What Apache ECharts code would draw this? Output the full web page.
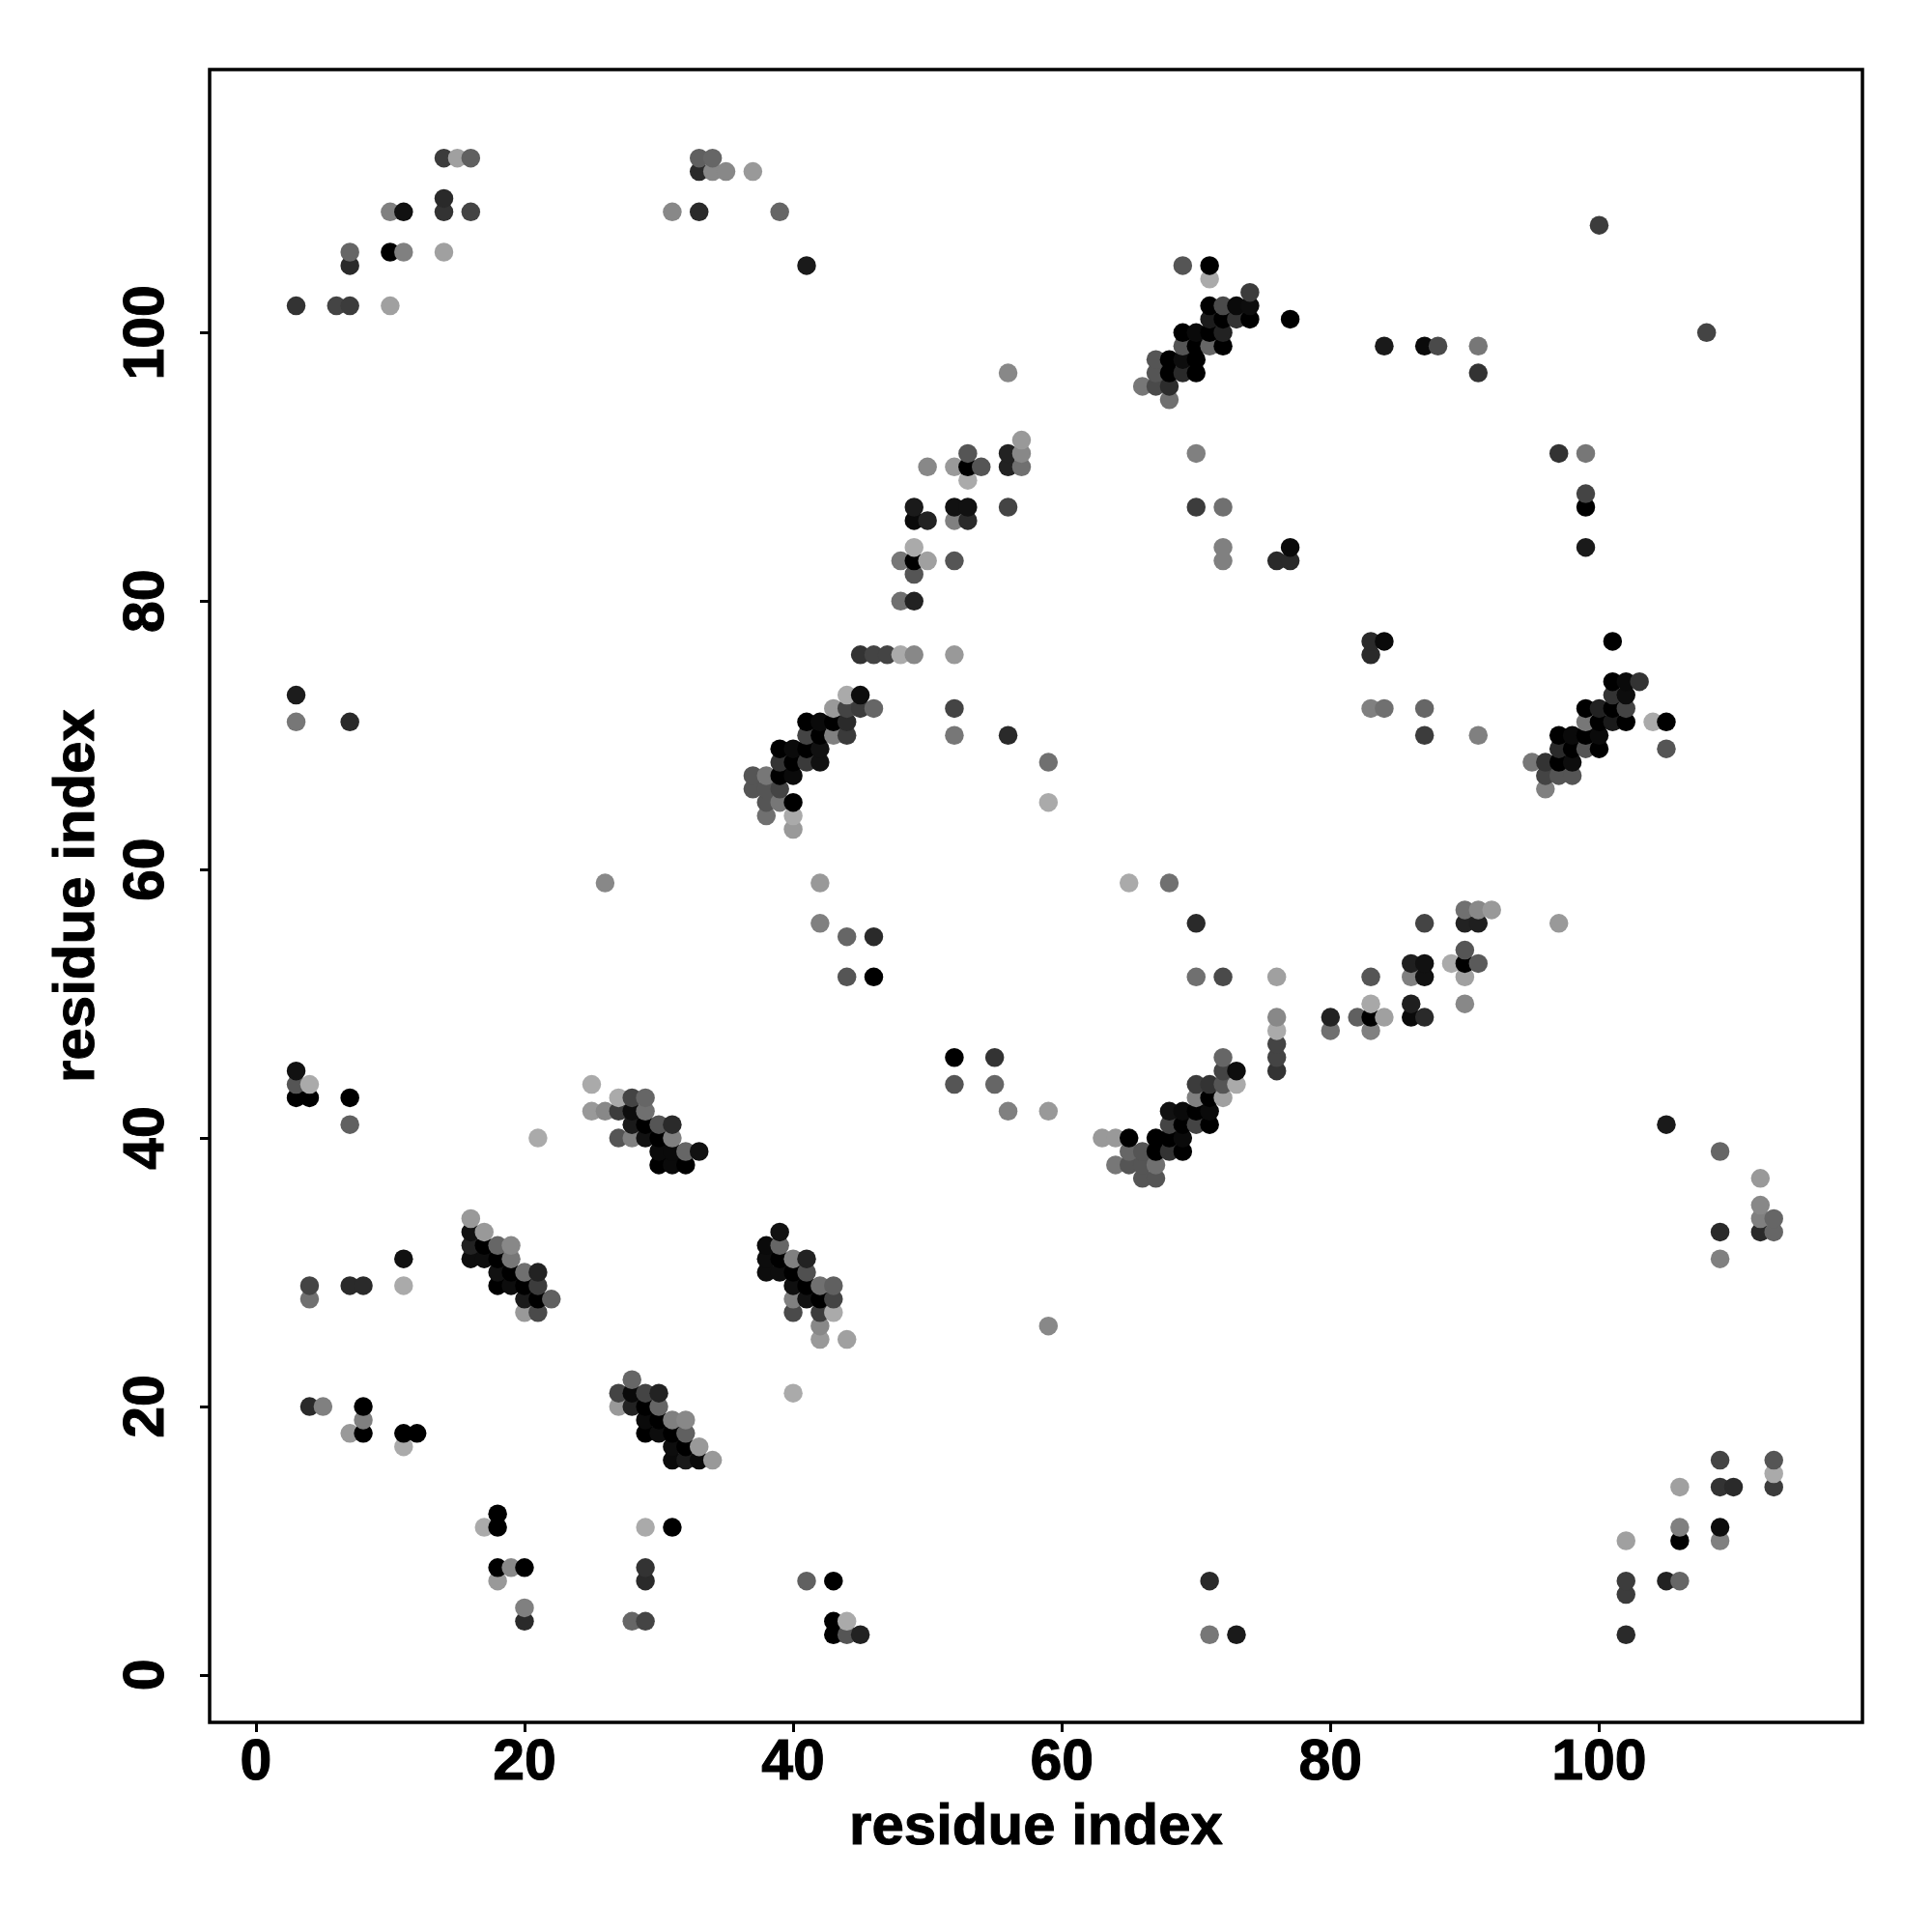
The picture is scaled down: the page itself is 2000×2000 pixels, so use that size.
<!DOCTYPE html>
<html>
<head>
<meta charset="utf-8">
<style>html,body{margin:0;padding:0;background:#fff}#c{width:2000px;height:2000px}</style>
<script src="https://cdn.jsdelivr.net/npm/echarts@6/dist/echarts.min.js"></script>
</head>
<body>
<div id="c"></div>
<script>
const rowResidue = [113,112,110,109,108,106,105,104,103,102,101,100,99,98,97,96,95,92,91,90,89,88,87,86,84,83,82,80,77,76,74,73,72,71,70,69,68,67,66,65,64,63,59,57,56,55,54,53,52,50,49,48,47,46,45,44,43,42,41,40,39,38,37,35,34,33,32,31,30,29,28,27,26,25,22,21,20,19,18,17,16,15,14,12,11,10,8,7,6,5,4,3];
const columnResidues = [
[14,15,16,33,34],[33,34,35,37],[14],[10,11,14,16,31,33,39],[100],[7,10,11,14],[7,41,69,71],[71],[74],
[3,6,7,10,71,72,73,74],[71,72,73,74,77],[69,70,71,72,108],[69,70,71,72,84,87,88,91],[67,68,69,70],[56,67,68,69,70,91],[66,67,68],[68],
[57],[53,56,57,70,97,99],[50,52,53,54,56,57],[53],[99],[49,52,53,56,70,72,99],[49,50,52,53],[49,72,77,99],[48,49,50,52,72,76,77],[49],[48,49],
[83,84,101],[45,46,47,48,49,52,83],[101,102,103],[3,44,45,101,102],[43,44,45,46,52,83,84,87,99,100,101,102],[3,7,41,42,43,44,99,100,101,102,104,105],
[41,42,43,44,52,56,87,91,97,98,99,100],[39,40,41,42,97,98,99,100,105],[39,40,41,42,59,95,96,97,98],[37,38,39,40,96,97,98],[37,38,39,96],[38,39,40,59],[38,40],[40],
[26,42,65,68],[90,91,92],[42,70,87,90,91,97],[44,46],[90],[86,87,89,90,91],[44,46,70,72,76,83,86,87,90],[83,86,90],[76,80,82,83,84,86,87],[76,80,83],[76],
[52,55,72,76],[3,72,73,76],[3,4,25,52,55,70,71,72,73],[3,4,7,27,28,29,70,71,72],[25,26,27,28,29,56,59,68,69,70,71],[7,28,29,30,31,68,69,70,71,105],
[21,27,28,29,30,31,63,64,65,67,68,69],[30,31,32,33,65,66,67,68,69,109],[30,31,32,64,65,66,67],[66,67,112],[112],[16,112,113],[16,17,39,109,112,113],
[16,17,18,19,38,39],[11,16,17,18,19,38,39,40,41,109],[18,19,20,21,38,39,40,41],[4,7,8,11,18,19,20,21,40,41,42,43],[4,20,21,22,40,41,42,43],[20,21,40,42,43],[42,59],[42,44],
[28],[27,28,29,30,40],[4,5,8,27,28,29,30],[8,29,30,31,32],[7,8,11,12,29,30,31,32],[11,31,32,33],[31,32,33,34,109,113],[113],[106,109,110,113],[18],[17,18,29,31,106,109],[102,106,109],
[18,19,20,29],[18,29,41,43,71,102,105,106],[102],[20],[20,28,29,43,44],[43,44,45,71,73,102]
];
const greyLevels = [
[60,160,96,96,102],[42,136,136,153],[42],[128,17,51,68,136,42,102],[60],[102,0,128,160],[42,26,85,0],[170],[60],
[51,68,60,160,0,74,10,13],[28,0,51,0,0],[0,10,0,34,68],[85,0,102,0,26,10,74,119],[85,0,13,0],[136,85,0,42,0,51],[119,74,44],[112],
[153],[85,34,136,128,51,119],[136,153,0,85,34,112],[170],[68],[26,17,17,68,60,112,0],[10,34,128,42],[170,128,10,26],[119,0,160,85,128,42,42],[85],[112,34],
[42,10,0],[51,68,68,170,136,153,42],[0,10,51],[28,170,13,51,13],[153,68,60,102,68,128,112,102,0,34,0,68],[119,42,0,10,0,42,119,0,26,0,170,0],
[68,0,128,58,119,42,60,128,0,10,0,10],[0,10,0,17,42,0,85,0,85],[51,0,58,17,112,119,51,0,13],[85,119,0,10,68,85,85],[85,85,68,128],[85,119,0,170],[112,170],[153],
[136,153,170,112],[112,136,153],[128,42,68,34,31,153],[102,42],[85],[31,17,170,0,90],[85,0,112,74,160,85,128,17,160],[168,31,136],[136,34,96,0,160,10,42],[170,112,128],[68],
[0,51,102,68],[17,68,13,51],[85,170,170,85,102,60,51,85,170],[0,0,0,170,68,102,128,0,160],[153,136,60,13,112,128,153,17,10,0,10],[96,26,0,85,42,68,0,68,0,26],
[170,85,128,17,0,128,153,153,0,0,0,10],[10,10,102,17,102,85,0,51,0,102],[0,10,0,119,85,85,112],[85,85,153],[136],[153,128,102],[17,153,17,42,42,102],
[34,0,102,136,10,102],[17,13,13,0,119,13,0,128,34,128],[17,0,112,34,13,13,0,80],[68,42,42,170,0,13,0,60,15,0,112,96],[112,26,0,96,128,17,0,68],[153,74,74,60,170],[136,136],[153,160],
[102],[68,10,68,34,170],[42,128,0,153,34,0,102],[128,10,0,128,136],[153,0,0,0,0,13,0,96],[170,13,0,153],[10,26,10,153,68,85],[170],[160,51,42,60],[0],[170,0,170,0,128,13],[160,0,128],
[0,136,0,51],[153,42,96,0,42,60,34,102],[60],[128],[42,102,68,0,170],[0,85,34,119,26,42]
];
const tickValues = [0,20,40,60,80,100];
const axisTitle = 'residue index';

const points = [];
rowResidue.forEach((y, r) => columnResidues[r].forEach((x, c) => points.push([x, y, greyLevels[r][c]])));
points.sort((a, b) => a[0] - b[0] || a[1] - b[1]);

const font = {fontFamily: '"Liberation Sans", Arial, sans-serif', fontWeight: 'bold', fontSize: 59, color: '#000', textBorderColor: '#000', textBorderWidth: 1};
const titleFont = Object.assign({}, font, {fontSize: 60});
const tick = {show: true, length: 10, lineStyle: {color: '#000', width: 3}, customValues: tickValues};

const chart = echarts.init(document.getElementById('c'), null, {renderer: 'canvas', width: 2000, height: 2000});
chart.setOption({
  animation: false,
  backgroundColor: '#fff',
  grid: {left: 217, top: 72, right: 72, bottom: 217, show: true, borderColor: '#000', borderWidth: 3.5, backgroundColor: 'transparent'},
  xAxis: {
    type: 'value', min: -3.44, max: 119.6, splitLine: {show: false},
    axisLine: {show: false, onZero: false}, axisTick: tick,
    axisLabel: Object.assign({customValues: tickValues, margin: 13, showMinLabel: true, showMaxLabel: true}, font),
    name: axisTitle, nameLocation: 'middle', nameGap: 79, nameTextStyle: titleFont
  },
  yAxis: {
    type: 'value', min: -3.53, max: 119.6, splitLine: {show: false},
    axisLine: {show: false, onZero: false}, axisTick: tick,
    axisLabel: Object.assign({customValues: tickValues, rotate: 90, margin: 35, showMinLabel: true, showMaxLabel: true}, font),
    name: axisTitle, nameLocation: 'middle', nameGap: 107, nameRotate: 90, nameTextStyle: titleFont
  },
  series: [{
    type: 'scatter', data: points, symbol: 'circle', symbolSize: 19.5, silent: true,
    encode: {x: 0, y: 1},
    itemStyle: {opacity: 1, color: p => { const g = p.data[2]; return 'rgb(' + g + ',' + g + ',' + g + ')'; }}
  }]
});
</script>
</body>
</html>
